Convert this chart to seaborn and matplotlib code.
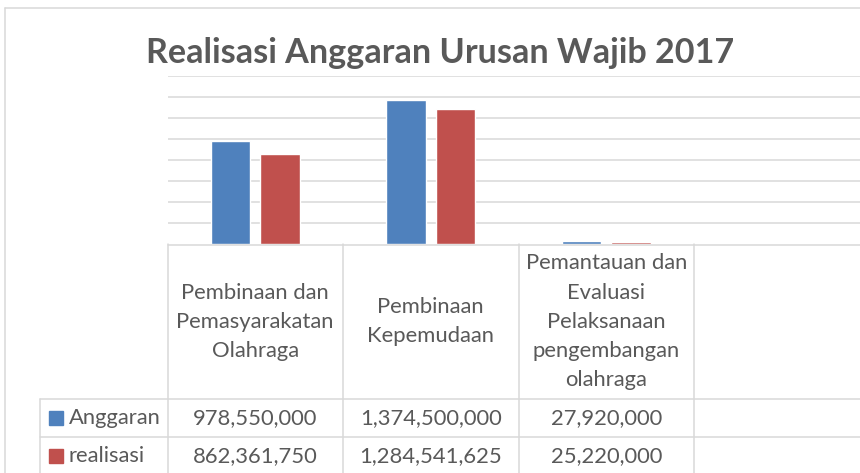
## libraries ##
import numpy as np
import pandas as pd
import seaborn as sns
import matplotlib.pyplot as plt
from matplotlib import transforms
from matplotlib.lines import Line2D
from matplotlib.patches import Rectangle

## chart data ##
categories = ['Pembinaan dan\nPemasyarakatan\nOlahraga',
              'Pembinaan\nKepemudaan',
              'Pemantauan dan\nEvaluasi\nPelaksanaan\npengembangan\nolahraga']
series_names = ['Anggaran', 'realisasi']
anggaran = [978550000, 1374500000, 27920000]
realisasi = [862361750, 1284541625, 25220000]
colors = ['#4F81BD', '#C0504D']
title = 'Realisasi Anggaran Urusan Wajib 2017'

W, H = 860, 473
GRID = '#d9d9d9'
TXT = '#595959'
FS = 15.8


def fx(px):
    return px / W


def fy(py):
    return 1 - py / H


def hline(fig, y, x0, x1):
    fig.add_artist(Line2D([fx(x0), fx(x1)], [fy(y), fy(y)], color=GRID, lw=1.1))


def vline(fig, x, y0, y1, trans=None):
    if trans is None:
        fig.add_artist(Line2D([fx(x), fx(x)], [fy(y0), fy(y1)], color=GRID, lw=1.1))
    else:
        fig.add_artist(Line2D([x, x], [fy(y0), fy(y1)], color=GRID, lw=1.1, transform=trans))


sns.set_style('white')
plt.rcParams['font.family'] = ['Lato', 'DejaVu Sans']

df = pd.DataFrame({
    'category': categories * 2,
    'series': [series_names[0]] * 3 + [series_names[1]] * 3,
    'value': anggaran + realisasi,
})

fig = plt.figure(figsize=(W / 100, H / 100), dpi=100)

# plot area (right edge runs past the picture like the cropped original)
top, base, left, right = 76, 244.3, 167.5, 869.5
ax = fig.add_axes([fx(left), fy(base), (right - left) / W, (base - top) / H])
sns.barplot(data=df, x='category', y='value', hue='series', order=categories,
            hue_order=series_names, palette=colors, saturation=1, errorbar=None,
            width=0.565, gap=0.2, legend=False, ax=ax, zorder=3)
ax.set_xlim(-0.5, 3.5)
ax.set_ylim(0, 1.6e9)
ax.set_yticks(np.arange(2e8, 1.6e9 + 1, 2e8))
ax.yaxis.grid(True, color=GRID, lw=1.1)
ax.set_axisbelow(True)
ax.tick_params(left=False, bottom=False, labelleft=False, labelbottom=False)
ax.set_xlabel('')
ax.set_ylabel('')
for s in ax.spines.values():
    s.set_visible(False)

# title
fig.text(fx(440), fy(63), title, ha='center', va='baseline', fontsize=24.6,
         fontweight='bold', color=TXT)

# chart border
hline(fig, 8, 5, W)
vline(fig, 5, 8, H)

# data table
trans = transforms.blended_transform_factory(ax.transData, fig.transFigure)
row1, row2 = 399.3, 437.3
hline(fig, base + 0.6, left, W)
hline(fig, row1, 40, W)
hline(fig, row2, 40, W)
vline(fig, 40, row1, H)
for b in np.arange(-0.5, 4, 1.0):
    vline(fig, b, base, H, trans)

for i, cat in enumerate(categories):
    fig.text(i, fy((base + row1) / 2), cat, transform=trans, ha='center', va='center',
             multialignment='center', fontsize=FS, color=TXT, linespacing=1.58)
    fig.text(i, fy((row1 + row2) / 2), f'{anggaran[i]:,}', transform=trans,
             ha='center', va='center', fontsize=FS, color=TXT)
    fig.text(i, fy(row2 + 19), f'{realisasi[i]:,}', transform=trans,
             ha='center', va='center', fontsize=FS, color=TXT)

# legend keys inside the table
for name, c, yc in zip(series_names, colors, [(row1 + row2) / 2, row2 + 19]):
    fig.add_artist(Rectangle((fx(49), fy(yc + 7)), 14 / W, 14 / H, color=c))
    fig.text(fx(69), fy(yc), name, ha='left', va='center', fontsize=FS, color=TXT)

fig.savefig('out.png', dpi=100)
